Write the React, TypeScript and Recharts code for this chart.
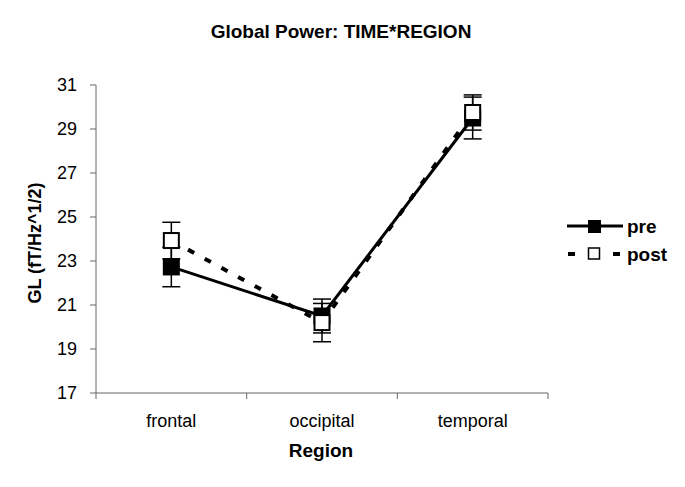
import React from 'react';
import { LineChart, Line, XAxis, YAxis, ErrorBar } from 'recharts';

const regions = ['frontal', 'occipital', 'temporal'];
const preValues = [22.73, 20.5, 29.5];
const preErrors = [0.9, 0.77, 0.95];
const postValues = [23.93, 20.2, 29.75];
const postErrors = [0.83, 0.87, 0.8];
const yTicks = [17, 19, 21, 23, 25, 27, 29, 31];

const data = regions.map((r, i) => ({
  x: i + 0.5,
  region: r,
  pre: preValues[i],
  preErr: preErrors[i],
  post: postValues[i],
  postErr: postErrors[i],
}));

const xTicks = [0, 0.5, 1, 1.5, 2, 2.5, 3];
const FONT = '"Liberation Sans", Arial, sans-serif';

const XTick = (props: any) => {
  const { x, y, payload } = props;
  const v = payload.value;
  const axisY = y - 6;
  if (Number.isInteger(v)) {
    return <line x1={x} x2={x} y1={axisY} y2={axisY + 6} stroke="#666" strokeWidth={1} />;
  }
  const idx = Math.floor(v);
  return (
    <text x={x} y={axisY + 34} textAnchor="middle" fontFamily={FONT} fontSize={18} fill="#000">
      {regions[idx]}
    </text>
  );
};

const PreDot = (props: any) => {
  const { cx, cy, index } = props;
  return <rect key={`pre-${index}`} x={cx - 8.5} y={cy - 8.5} width={17} height={17} fill="#000" stroke="none" />;
};

const PostDot = (props: any) => {
  const { cx, cy, index } = props;
  return (
    <rect key={`post-${index}`} x={cx - 7.5} y={cy - 7.5} width={15} height={15} fill="#fff" stroke="#000" strokeWidth={2} />
  );
};

export default function App() {
  return (
    <div style={{ position: 'absolute', left: 0, top: 0, width: 685, height: 487, background: '#fff' }}>
      <LineChart
        width={685}
        height={487}
        data={data}
        margin={{ top: 85, right: 137, left: 0, bottom: 64 }}
      >
        <XAxis
          dataKey="x"
          type="number"
          domain={[0, 3]}
          ticks={xTicks}
          interval={0}
          allowDecimals
          height={30}
          tickLine={false}
          tickSize={6}
          tickMargin={0}
          axisLine={{ stroke: '#666', strokeWidth: 1 }}
          tick={<XTick />}
        />
        <YAxis
          type="number"
          domain={[17, 31]}
          ticks={yTicks}
          interval={0}
          width={96}
          tickSize={6}
          tickMargin={13}
          axisLine={{ stroke: '#666', strokeWidth: 1 }}
          tickLine={{ stroke: '#666', strokeWidth: 1 }}
          tick={{ fontFamily: FONT, fontSize: 18, fill: '#000', dy: 0 }}
        />
        <Line
          dataKey="pre"
          stroke="#000"
          strokeWidth={3}
          dot={<PreDot />}
          activeDot={false}
          isAnimationActive={false}
        >
          <ErrorBar dataKey="preErr" direction="y" width={9} stroke="#000" strokeWidth={1.5} />
        </Line>
        <Line
          dataKey="post"
          stroke="#000"
          strokeWidth={4}
          strokeDasharray="7 12"
          dot={<PostDot />}
          activeDot={false}
          isAnimationActive={false}
        >
          <ErrorBar dataKey="postErr" direction="y" width={9} stroke="#000" strokeWidth={1.5} />
        </Line>
      </LineChart>
      <svg
        width={685}
        height={487}
        style={{ position: 'absolute', left: 0, top: 0, pointerEvents: 'none' }}
      >
        <text x={341} y={38} textAnchor="middle" fontFamily={FONT} fontSize={19} fontWeight="bold" fill="#000">
          Global Power: TIME*REGION
        </text>
        <text x={321} y={457} textAnchor="middle" fontFamily={FONT} fontSize={19} fontWeight="bold" fill="#000">
          Region
        </text>
        <text
          x={0}
          y={0}
          transform="translate(41,243) rotate(-90)"
          textAnchor="middle"
          fontFamily={FONT}
          fontSize={18}
          fontWeight="bold"
          fill="#000"
        >
          GL (fT/Hz^1/2)
        </text>
        {/* legend */}
        <line x1={567} x2={623} y1={226} y2={226} stroke="#000" strokeWidth={3} />
        <rect x={588} y={220} width={13} height={13} fill="#000" />
        <text x={627} y={233} fontFamily={FONT} fontSize={19} fontWeight="bold" fill="#000">
          pre
        </text>
        <line x1={568} x2={575} y1={254} y2={254} stroke="#000" strokeWidth={4} />
        <line x1={613} x2={620} y1={254} y2={254} stroke="#000" strokeWidth={4} />
        <rect x={588.5} y={248} width={11} height={11} fill="#fff" stroke="#000" strokeWidth={1.5} />
        <text x={627} y={261} fontFamily={FONT} fontSize={19} fontWeight="bold" fill="#000">
          post
        </text>
      </svg>
    </div>
  );
}
